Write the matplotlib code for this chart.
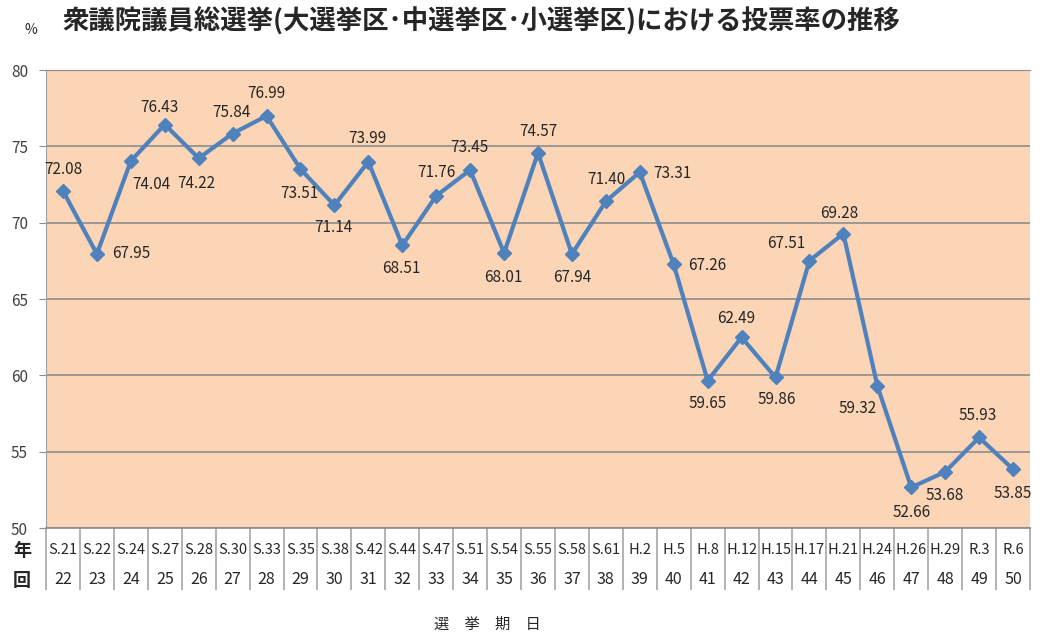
import matplotlib
matplotlib.use("Agg")
import matplotlib.pyplot as plt

plt.rcParams['font.family'] = ['Noto Sans CJK JP', 'DejaVu Sans']

years = ["S.21", "S.22", "S.24", "S.27", "S.28", "S.30", "S.33", "S.35", "S.38", "S.42",
         "S.44", "S.47", "S.51", "S.54", "S.55", "S.58", "S.61", "H.2", "H.5", "H.8",
         "H.12", "H.15", "H.17", "H.21", "H.24", "H.26", "H.29", "R.3", "R.6"]
rounds = list(range(22, 51))
turnout = [72.08, 67.95, 74.04, 76.43, 74.22, 75.84, 76.99, 73.51, 71.14, 73.99,
           68.51, 71.76, 73.45, 68.01, 74.57, 67.94, 71.40, 73.31, 67.26, 59.65,
           62.49, 59.86, 67.51, 69.28, 59.32, 52.66, 53.68, 55.93, 53.85]

# label offsets in pixels (dx right, dy down)
offsets = [(0, -21), (34, 0), (21, 24), (-5, -17), (-2, 25), (-1, -21), (0, -22), (-1, 24),
           (-1, 22), (-1, -23), (-1, 23), (0, -23), (-1, -22), (-1, 24), (0, -21), (0, 23),
           (1, -22), (33, 1), (33, 1), (0, 23), (-5, -19), (1, 22), (-23, -17), (-4, -20),
           (-20, 23), (0, 25), (0, 24), (-1, -22), (0, 24)]

W, H = 1042, 638
fig = plt.figure(figsize=(W / 100, H / 100), dpi=100)
L, R, T, B = 46, 1030, 70, 528
ax = fig.add_axes([L / W, 1 - B / H, (R - L) / W, (B - T) / H])
ax.set_facecolor('#FBD5B5')

n = len(turnout)
x = list(range(n))
ax.set_xlim(-0.5, n - 0.5)
ax.set_ylim(50, 80)
ax.set_yticks([50, 55, 60, 65, 70, 75, 80])
ax.yaxis.grid(True, color='#8C8C8C', linewidth=1.2)
ax.set_axisbelow(True)
ax.tick_params(axis='y', length=5, color='#8C8C8C', labelsize=11, labelcolor='#404040', pad=8)
ax.set_xticks([])
ax.spines['right'].set_visible(False)
ax.spines['top'].set_color('#8C8C8C')
ax.spines['left'].set_color('#A0A0A0')
ax.spines['bottom'].set_color('#8C8C8C')
ax.spines['bottom'].set_linewidth(1.2)

ax.plot(x, turnout, color='#4F81BD', linewidth=3, marker='D', markersize=7.5, zorder=3)

for i, v in enumerate(turnout):
    dx, dy = offsets[i]
    ax.annotate(f"{v:.2f}", (i, v), xytext=(dx, -dy), textcoords='offset pixels',
                ha='center', va='center', fontsize=11, color='#262626', zorder=4)

# table below
tr = ax.get_xaxis_transform()
ah = B - T
bounds = [i - 0.5 for i in range(n + 1)]
ax.vlines(bounds, 0, -62 / ah, transform=tr, colors='#A6A6A6', linewidth=1.2, clip_on=False)
for i in range(n):
    ax.text(i, -22 / ah, years[i], transform=tr, ha='center', va='center', fontsize=10.5, color='#262626')
    ax.text(i, -52 / ah, str(rounds[i]), transform=tr, ha='center', va='center', fontsize=11.5, color='#262626')

fig.text(22 / W, 1 - 551 / H, "年", ha='center', va='center', fontsize=13, fontweight='bold', color='#262626')
fig.text(22 / W, 1 - 580 / H, "回", ha='center', va='center', fontsize=13, fontweight='bold', color='#262626')

fig.text(487 / W, 1 - 624 / H, "選\u3000挙\u3000期\u3000日", ha='center', va='center', fontsize=11, color='#262626')
fig.text(31 / W, 1 - 30 / H, "%", ha='center', va='center', fontsize=10, color='#262626')
fig.text(62 / W, 1 - 22 / H, "衆議院議員総選挙(大選挙区･中選挙区･小選挙区)における投票率の推移",
         ha='left', va='center', fontsize=19, fontweight='bold', color='#262626')

fig.savefig("out.png", dpi=100)
